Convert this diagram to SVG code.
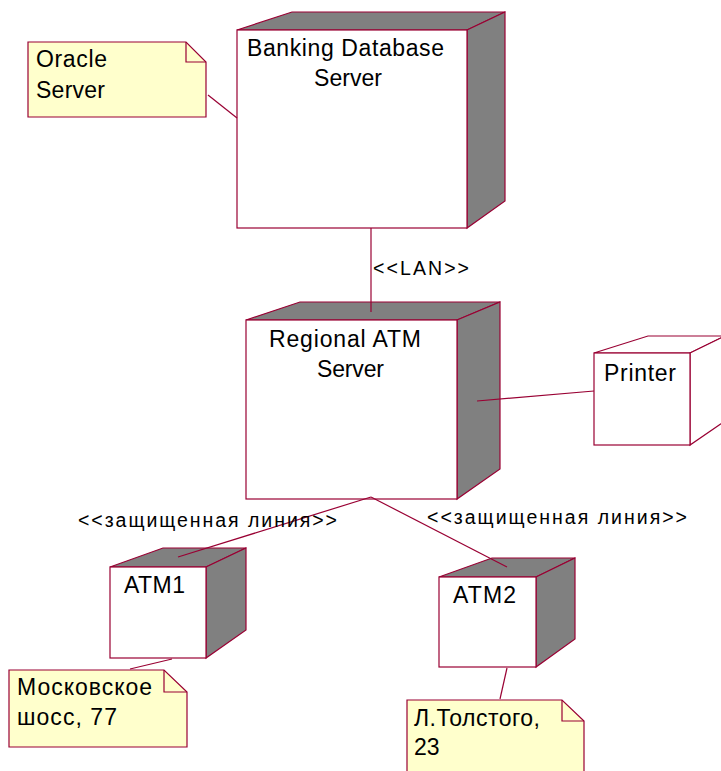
<svg xmlns="http://www.w3.org/2000/svg" width="721" height="771" viewBox="0 0 721 771">
  <style>
    .edge { stroke: #990033; stroke-width: 1.2; fill: none; }
    .front { fill: #ffffff; stroke: #990033; stroke-width: 1.2; }
    .shade { fill: #808080; stroke: #990033; stroke-width: 1.2; stroke-linejoin: miter; }
    .open { fill: #ffffff; stroke: #990033; stroke-width: 1.2; }
    .note { fill: #ffffcc; stroke: #990033; stroke-width: 1.2; }
    .lbl { font-family: "Liberation Sans", Arial, sans-serif; font-size: 23px; fill: #000000; }
    .small { font-family: "Liberation Sans", Arial, sans-serif; font-size: 19.5px; fill: #000000; }
  </style>
  <rect x="0" y="0" width="721" height="771" fill="#ffffff"/>

  <!-- Banking Database Server -->
  <g id="banking-db">
    <polygon class="shade" points="237,30 292,12 505,12 467,30"/>
    <polygon class="shade" points="467,30 505,12 505,201 467,228"/>
    <rect class="front" x="237" y="30" width="230" height="198"/>
    <text class="lbl" x="247" y="56" textLength="197" lengthAdjust="spacing">Banking Database</text>
    <text class="lbl" x="314" y="86" textLength="68" lengthAdjust="spacing">Server</text>
  </g>

  <!-- Oracle Server note -->
  <g id="note-oracle">
    <polygon class="note" points="28,42 186,42 206,62 206,117 28,117"/>
    <polyline class="edge" points="186,42 186,62 206,62"/>
    <text class="lbl" x="36" y="67" textLength="71" lengthAdjust="spacing">Oracle</text>
    <text class="lbl" x="36" y="98" textLength="69" lengthAdjust="spacing">Server</text>
  </g>

  <!-- Regional ATM Server -->
  <g id="regional-atm">
    <polygon class="shade" points="246,320 300,302 500,302 457,320"/>
    <polygon class="shade" points="457,320 500,302 500,469 457,499"/>
    <rect class="front" x="246" y="320" width="211" height="179"/>
    <text class="lbl" x="269" y="347" textLength="152" lengthAdjust="spacing">Regional ATM</text>
    <text class="lbl" x="317" y="377" textLength="67" lengthAdjust="spacing">Server</text>
  </g>

  <!-- Printer -->
  <g id="printer">
    <polygon class="open" points="594,353 648,336 725,336 690,353"/>
    <polygon class="open" points="690,353 725,336 725,421 690,445"/>
    <rect class="front" x="594" y="353" width="96" height="92"/>
    <text class="lbl" x="604" y="381" textLength="72" lengthAdjust="spacing">Printer</text>
  </g>

  <!-- ATM1 -->
  <g id="atm1">
    <polygon class="shade" points="110,567 163,548 246,548 206,567"/>
    <polygon class="shade" points="206,567 246,548 246,630 206,658"/>
    <rect class="front" x="110" y="567" width="96" height="91"/>
    <text class="lbl" x="124" y="593" textLength="61" lengthAdjust="spacing">ATM1</text>
  </g>

  <!-- ATM2 -->
  <g id="atm2">
    <polygon class="shade" points="439,577 492,558 575,558 536,577"/>
    <polygon class="shade" points="536,577 575,558 575,639 536,667"/>
    <rect class="front" x="439" y="577" width="97" height="90"/>
    <text class="lbl" x="453" y="603" textLength="63" lengthAdjust="spacing">ATM2</text>
  </g>

  <!-- Note for ATM1 -->
  <g id="note-atm1">
    <polygon class="note" points="9,670 164,670 187,692 187,747 9,747"/>
    <polyline class="edge" points="164,670 164,692 187,692"/>
    <text class="lbl" x="17" y="695" textLength="135" lengthAdjust="spacing">Московское</text>
    <text class="lbl" x="17" y="725" textLength="100" lengthAdjust="spacing">шосс, 77</text>
  </g>

  <!-- Note for ATM2 -->
  <g id="note-atm2">
    <polygon class="note" points="407,700 562,700 584,721 584,780 407,780"/>
    <polyline class="edge" points="562,700 562,721 584,721"/>
    <text class="lbl" x="414" y="726" textLength="126" lengthAdjust="spacing">Л.Толстого,</text>
    <text class="lbl" x="414" y="755">23</text>
  </g>

  <!-- Connectors -->
  <g id="connectors">
    <line class="edge" x1="208" y1="95" x2="237" y2="118"/>
    <line class="edge" x1="371" y1="228" x2="371" y2="312"/>
    <line class="edge" x1="477" y1="401" x2="594" y2="391"/>
    <line class="edge" x1="371" y1="497" x2="178" y2="557"/>
    <line class="edge" x1="371" y1="497" x2="507" y2="567"/>
    <line class="edge" x1="172" y1="659" x2="130" y2="669"/>
    <line class="edge" x1="507" y1="668" x2="500" y2="699"/>
  </g>

  <!-- Connector labels -->
  <g id="connector-labels">
    <text class="small" x="373" y="275" textLength="96" lengthAdjust="spacing">&lt;&lt;LAN&gt;&gt;</text>
    <text class="small" x="78" y="527" textLength="259" lengthAdjust="spacing">&lt;&lt;защищенная линия&gt;&gt;</text>
    <text class="small" x="427" y="524" textLength="260" lengthAdjust="spacing">&lt;&lt;защищенная линия&gt;&gt;</text>
  </g>
</svg>
